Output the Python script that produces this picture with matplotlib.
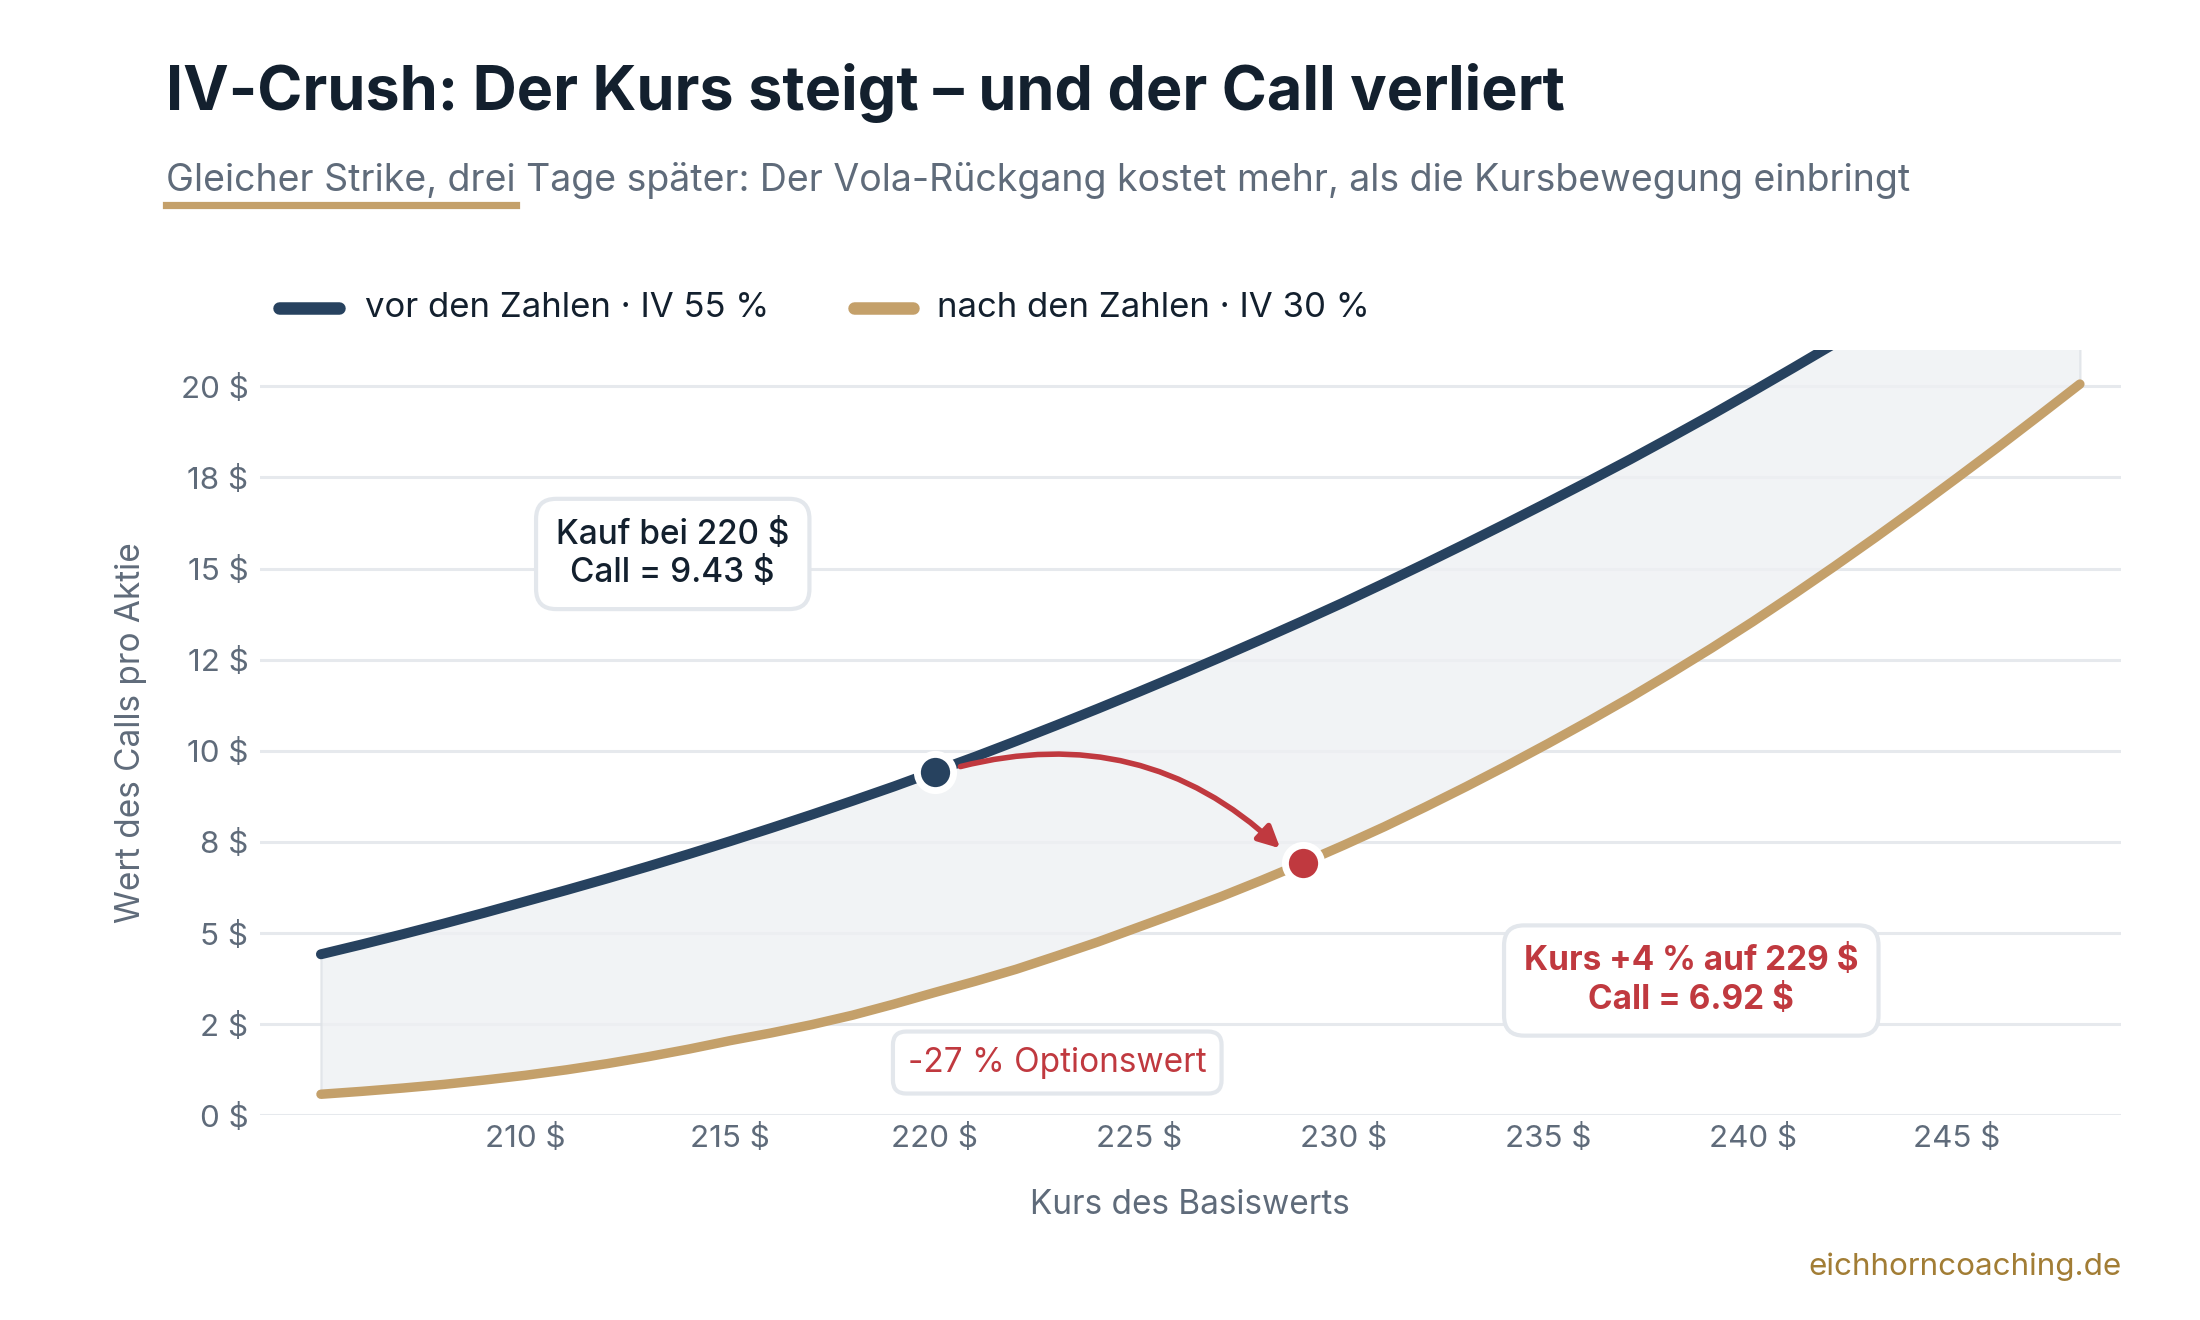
import matplotlib.pyplot as plt
from matplotlib.patches import FancyArrowPatch
from matplotlib.lines import Line2D

plt.rcParams["font.family"] = ["Inter", "DejaVu Sans"]

# Kurs des Basiswerts (x) und Callwert vor / nach den Zahlen
kurs = [205, 206, 207, 208, 209, 210, 211, 212, 213, 214, 215, 216, 217, 218, 219,
        220, 221, 222, 223, 224, 225, 226, 227, 228, 229, 230, 231, 232, 233, 234,
        235, 236, 237, 238, 239, 240, 241, 242, 243, 244, 245, 246, 247, 248]
call_vor = [4.42, 4.69, 4.97, 5.26, 5.56, 5.87, 6.18, 6.50, 6.83, 7.17, 7.52, 7.88,
            8.25, 8.63, 9.02, 9.43, 9.84, 10.27, 10.71, 11.16, 11.62, 12.09, 12.57,
            13.06, 13.56, 14.07, 14.60, 15.14, 15.69, 16.25, 16.82, 17.40, 17.99,
            18.60, 19.22, 19.86, 20.51, 21.17, 21.84, 22.52, 23.21, 23.91, 24.62, 25.34]
call_nach = [0.58, 0.66, 0.75, 0.85, 0.97, 1.10, 1.25, 1.42, 1.61, 1.82, 2.05, 2.26,
             2.49, 2.75, 3.05, 3.37, 3.68, 4.01, 4.38, 4.76, 5.17, 5.58, 6.00, 6.45,
             6.92, 7.41, 7.92, 8.46, 9.02, 9.60, 10.20, 10.82, 11.46, 12.13, 12.82,
             13.54, 14.29, 15.06, 15.85, 16.66, 17.49, 18.33, 19.19, 20.06]

kauf_kurs, kauf_call = 220, 9.43
neu_kurs, neu_call = 229, 6.92

y_ticks = [0, 2.5, 5, 7.5, 10, 12.5, 15, 17.5, 20]
y_labels = ["0 $", "2 $", "5 $", "8 $", "10 $", "12 $", "15 $", "18 $", "20 $"]
x_ticks = [210, 215, 220, 225, 230, 235, 240, 245]

navy = "#27425f"
gold = "#c4a06a"
red = "#c0393f"
grey = "#5f6b7a"
dark = "#13202e"

fig = plt.figure(figsize=(11, 6.6), dpi=200)
ax = fig.add_axes([0.118, 0.155, 0.846, 0.58])

ax.fill_between(kurs, call_nach, call_vor, color="#eef0f3", alpha=0.8,
                edgecolor="#dde1e6", linewidth=0.8, zorder=1)
ax.plot(kurs, call_vor, color=navy, lw=3.6, solid_capstyle="round", zorder=3)
ax.plot(kurs, call_nach, color=gold, lw=3.4, solid_capstyle="round", zorder=3)

ax.scatter([kauf_kurs], [kauf_call], s=170, color=navy, edgecolor="white",
           linewidth=2.5, zorder=5)
ax.scatter([neu_kurs], [neu_call], s=170, color=red, edgecolor="white",
           linewidth=2.5, zorder=5)

arrow = FancyArrowPatch((kauf_kurs + 0.5, kauf_call + 0.1), (neu_kurs - 0.45, neu_call + 0.3),
                        connectionstyle="arc3,rad=-0.28", arrowstyle="-|>",
                        mutation_scale=16, color=red, lw=2.0, zorder=4)
ax.add_patch(arrow)

box = dict(boxstyle="round,pad=0.6,rounding_size=0.6", facecolor="white",
           edgecolor="#e3e7ec", linewidth=1.5)
ax.text(213.6, 15.4, "Kauf bei 220 $\nCall = 9.43 $", ha="center", va="center",
        fontsize=12, color=dark, fontweight="medium", linespacing=1.25, bbox=box, zorder=6)
ax.text(238.5, 3.7, "Kurs +4 % auf 229 $\nCall = 6.92 $", ha="center", va="center",
        fontsize=12, color=red, fontweight="bold", linespacing=1.25, bbox=box, zorder=6)
ax.text(223.0, 1.45, "-27 % Optionswert", ha="center", va="center",
        fontsize=12, color=red, bbox=dict(boxstyle="round,pad=0.45,rounding_size=0.4",
        facecolor="white", edgecolor="#e3e7ec", linewidth=1.5), zorder=6)

ax.set_xlim(203.5, 249)
ax.set_ylim(0, 21)
ax.set_yticks(y_ticks)
ax.set_yticklabels(y_labels)
ax.set_xticks(x_ticks)
ax.set_xticklabels([f"{t} $" for t in x_ticks])
ax.tick_params(axis="y", length=0, labelsize=11.3, labelcolor=grey, pad=4)
ax.tick_params(axis="x", length=0, labelsize=11.3, labelcolor=grey, pad=3)
ax.grid(axis="y", color="#e6e9ed", lw=1.1)
ax.set_axisbelow(True)
for s in ax.spines.values():
    s.set_visible(False)
ax.set_xlabel("Kurs des Basiswerts", fontsize=12, color=grey, labelpad=13)
ax.set_ylabel("Wert des Calls pro Aktie", fontsize=12, color=grey, labelpad=12)

fig.text(0.0753, 0.917, "IV-Crush: Der Kurs steigt – und der Call verliert",
         fontsize=22, fontweight="bold", color=dark, va="baseline")
fig.text(0.0753, 0.855, "Gleicher Strike, drei Tage später: Der Vola-Rückgang kostet mehr, "
         "als die Kursbewegung einbringt", fontsize=13.5, color=grey, va="baseline")
fig.add_artist(Line2D([0.0753, 0.2347], [0.845, 0.845], color=gold, lw=2.6))

fig.add_artist(Line2D([0.127, 0.154], [0.767, 0.767], color=navy, lw=4.5,
                      solid_capstyle="round"))
fig.text(0.1658, 0.767, "vor den Zahlen · IV 55 %", fontsize=12.5, color=dark, va="center")
fig.add_artist(Line2D([0.388, 0.415], [0.767, 0.767], color=gold, lw=4.5,
                      solid_capstyle="round"))
fig.text(0.426, 0.767, "nach den Zahlen · IV 30 %", fontsize=12.5, color=dark, va="center")

fig.text(0.9643, 0.040, "eichhorncoaching.de", fontsize=11.3, color="#a27d35",
         ha="right", va="center")

fig.savefig("out.png", dpi=200, facecolor="white")
